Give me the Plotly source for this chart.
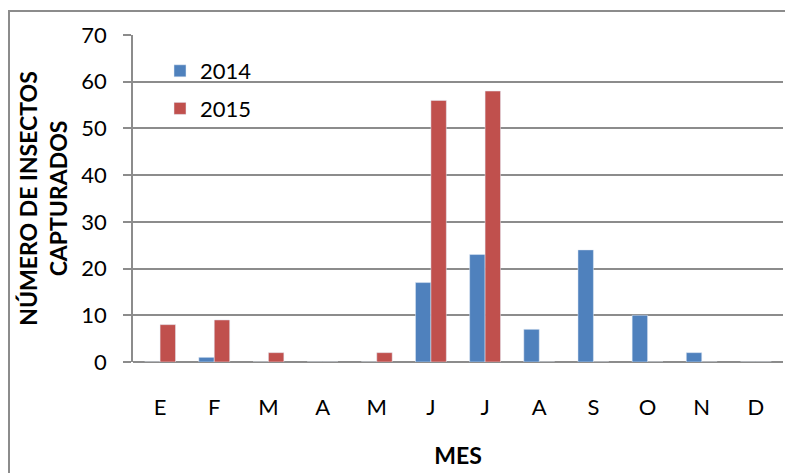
import plotly.graph_objects as go

meses = ["E", "F", "M", "A", "M", "J", "J", "A", "S", "O", "N", "D"]
y2014 = [0, 1, 0, 0, 0, 17, 23, 7, 24, 10, 2, 0]
y2015 = [8, 9, 2, 0, 2, 56, 58, 0, 0, 0, 0, 0]
x_idx = list(range(len(meses)))

FONT = "Lato"
GRID = "#8C8C8C"
OFF = 8  # browser body margin

fig = go.Figure()
fig.add_trace(go.Bar(x=x_idx, y=y2014, name="2014", marker_color="#4F81BD",
                     legendgroup="a"))
fig.add_trace(go.Bar(x=x_idx, y=y2015, name="2015", marker_color="#C0504D",
                     legendgroup="b"))

# target page coordinates of plot area
PL, PR, PT, PB = 133, 783, 35, 362
W, H = 793 - OFF, 473 - OFF
L = PL - OFF
T = PT - OFF
R = W - (PR - OFF)
B = H - (PB - OFF)
pw = PR - PL
ph = PB - PT

def px_x(p):
    return (p - PL) / pw

def px_y(p):
    return (PB - p) / ph

fig.update_layout(
    width=W, height=H,
    margin=dict(l=L, r=R, t=T, b=B, pad=0),
    paper_bgcolor="white", plot_bgcolor="white",
    font=dict(family=FONT, size=22, color="#000000"),
    barmode="group", bargap=0.43, bargroupgap=0,
    showlegend=True,
    legend=dict(x=px_x(160), y=px_y(50), xanchor="left", yanchor="top",
                bgcolor="rgba(0,0,0,0)", font=dict(size=22),
                tracegroupgap=6, itemwidth=30),
    xaxis=dict(
        tickmode="array", tickvals=x_idx, ticktext=meses,
        range=[-0.5, 11.5], showgrid=False, zeroline=False,
        showline=False, ticks="", ticklabelstandoff=30,
        title=dict(text="<b>MES</b>", font=dict(size=23), standoff=28),
    ),
    yaxis=dict(
        range=[0, 70], dtick=10, tick0=0,
        showgrid=True, gridcolor=GRID, gridwidth=1.5,
        zeroline=True, zerolinecolor=GRID, zerolinewidth=1.5,
        showline=True, linecolor=GRID, linewidth=1.5,
        ticks="outside", ticklen=8, tickcolor=GRID, tickwidth=1.5,
        ticklabelstandoff=12,
        title=dict(text="<b>NÚMERO DE INSECTOS<br>CAPTURADOS</b>",
                   font=dict(size=23), standoff=7),
    ),
)

# outer chart border
fig.add_shape(type="rect", xref="paper", yref="paper",
              x0=px_x(9), x1=px_x(805), y0=px_y(485), y1=px_y(11),
              line=dict(color=GRID, width=2), fillcolor="rgba(0,0,0,0)",
              layer="below")

fig.write_html("out.html")
